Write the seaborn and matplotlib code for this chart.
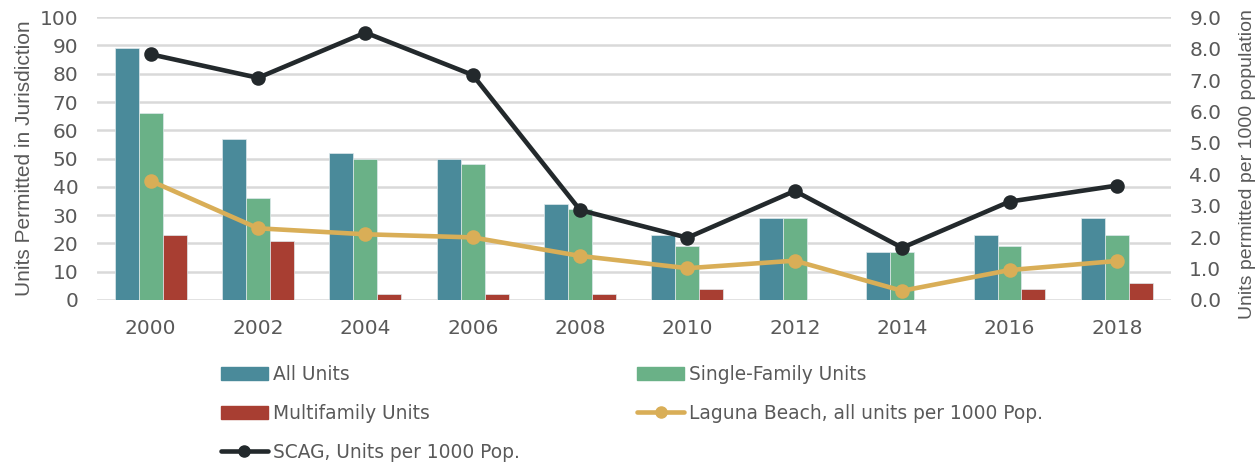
import matplotlib
matplotlib.use("Agg")
import matplotlib.pyplot as plt
import seaborn as sns
import pandas as pd
from matplotlib.patches import Patch
from matplotlib.lines import Line2D

years = ["2000", "2002", "2004", "2006", "2008", "2010", "2012", "2014", "2016", "2018"]
all_units = [89, 57, 52, 50, 34, 23, 29, 17, 23, 29]
single_family = [66, 36, 50, 48, 32, 19, 29, 17, 19, 23]
multifamily = [23, 21, 2, 2, 2, 4, 0, 0, 4, 6]
laguna_per_1000 = [3.79, 2.28, 2.09, 1.99, 1.40, 1.01, 1.25, 0.29, 0.95, 1.24]
scag_per_1000 = [7.82, 7.07, 8.51, 7.16, 2.86, 1.98, 3.47, 1.66, 3.13, 3.64]

left_ticks = [0, 10, 20, 30, 40, 50, 60, 70, 80, 90, 100]
right_ticks = [0, 1, 2, 3, 4, 5, 6, 7, 8, 9]

bar_names = ["All Units", "Single-Family Units", "Multifamily Units"]
bar_colors = ["#4a8a9a", "#6ab187", "#a83e32"]
laguna_name = "Laguna Beach, all units per 1000 Pop."
scag_name = "SCAG, Units per 1000 Pop."
laguna_color = "#d9ae57"
scag_color = "#23292c"
text_gray = "#595959"

sns.set_theme(style="white")
plt.rcParams["font.family"] = ["DejaVu Sans"]

bars = pd.DataFrame({
    "Year": years * 3,
    "Units": all_units + single_family + multifamily,
    "Series": [bar_names[0]] * len(years) + [bar_names[1]] * len(years) + [bar_names[2]] * len(years),
})
lines = pd.DataFrame({"Year": years, "Laguna": laguna_per_1000, "SCAG": scag_per_1000})

fig = plt.figure(figsize=(12.6, 4.65), dpi=100)
ax = fig.add_axes([0.077, 0.355, 0.852, 0.608])

sns.barplot(data=bars, x="Year", y="Units", hue="Series", order=years, hue_order=bar_names,
            palette=bar_colors, width=0.67, gap=0, saturation=1, edgecolor="#dfe9ec",
            linewidth=0.5, ax=ax, legend=False)

ax.set_ylim(0, 100)
ax.set_yticks(left_ticks)
ax.set_xlim(-0.5, len(years) - 0.5)
ax.yaxis.grid(True, color="#d9d9d9", linewidth=1.8)
ax.set_axisbelow(True)
for s in ax.spines.values():
    s.set_visible(False)
ax.tick_params(axis="both", length=0, labelsize=14.5, labelcolor=text_gray, pad=13.5)
ax.set_xlabel("")
ax.set_ylabel("Units Permitted in Jurisdiction", fontsize=15, color=text_gray,
              family="Liberation Sans")
ax.yaxis.set_label_coords(-0.059, 0.5)

ax2 = ax.twinx()
sns.pointplot(data=lines, x="Year", y="SCAG", order=years, color=scag_color,
              markers="o", markersize=8, linewidth=3.3, ax=ax2)
sns.pointplot(data=lines, x="Year", y="Laguna", order=years, color=laguna_color,
              markers="o", markersize=8, linewidth=3.3, ax=ax2)
ax2.set_ylim(0, 9)
ax2.set_yticks(right_ticks)
ax2.set_yticklabels([f"{t:.1f}" for t in right_ticks])
ax2.set_xlim(-0.5, len(years) - 0.5)
for s in ax2.spines.values():
    s.set_visible(False)
ax2.tick_params(axis="both", length=0, labelsize=14.5, labelcolor=text_gray, pad=13.5)
ax2.set_ylabel("Units permitted per 1000 population", fontsize=14, color=text_gray,
               family="Liberation Sans")
ax2.yaxis.set_label_coords(1.064, 0.48)
ax2.grid(False)

handles = [
    Patch(color=bar_colors[0]),
    Patch(color=bar_colors[2]),
    Line2D([], [], color=scag_color, lw=3.3, marker="o", markersize=8),
    Patch(color=bar_colors[1]),
    Line2D([], [], color=laguna_color, lw=3.3, marker="o", markersize=8),
]
labels = [bar_names[0], bar_names[2], scag_name, bar_names[1], laguna_name]
fig.legend(handles, labels, ncol=2, loc="upper left", bbox_to_anchor=(0.162, 0.252),
           frameon=False, prop={"family": "DejaVu Sans", "size": 13.4}, labelcolor=text_gray,
           columnspacing=6.3, handlelength=2.53, handletextpad=0.27, labelspacing=1.08)

fig.savefig("out.png", dpi=100)
